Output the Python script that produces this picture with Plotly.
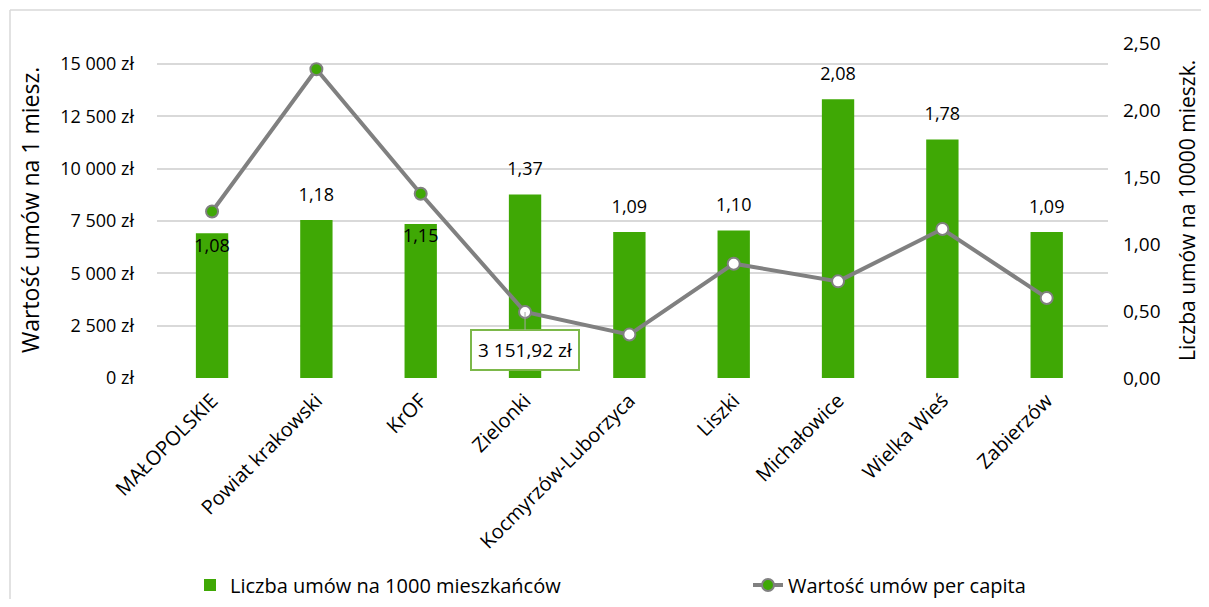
import plotly.graph_objects as go

categories = ["MAŁOPOLSKIE", "Powiat krakowski", "KrOF", "Zielonki", "Kocmyrzów-Luborzyca",
              "Liszki", "Michałowice", "Wielka Wieś", "Zabierzów"]
liczba_umow = [1.08, 1.18, 1.15, 1.37, 1.09, 1.10, 2.08, 1.78, 1.09]
wartosc_per_capita = [7954, 14745, 8798, 3151.92, 2074, 5460, 4616, 7115, 3824]
bar_label_text = ["1,08", "1,18", "1,15", "1,37", "1,09", "1,10", "2,08", "1,78", "1,09"]
bar_label_pos = ["bottom center", "top center", "bottom center", "top center", "top center",
                 "top center", "top center", "top center", "top center"]
marker_fill = ["#3FA805", "#3FA805", "#3FA805", "white", "white", "white", "white", "white", "white"]
left_ticks = [0, 2500, 5000, 7500, 10000, 12500, 15000]
left_tick_text = ["0 zł", "2 500 zł", "5 000 zł", "7 500 zł", "10 000 zł", "12 500 zł", "15 000 zł"]
right_ticks = [0, 0.5, 1.0, 1.5, 2.0, 2.5]

FONT = "Open Sans"
GREEN = "#3FA805"
GRAY = "#808080"

OFF = 8  # page body margin
W, H = 1209 - 2 * OFF, 607 - 2 * OFF
L, R, T, B = 157 - OFF, 1108 - OFF, 43 - OFF, 378 - OFF
pw, ph = R - L, B - T


def px(x):
    return (x - OFF - L) / pw


def py(y):
    return (B - (y - OFF)) / ph


fig = go.Figure()

fig.add_trace(go.Bar(
    x=categories, y=liczba_umow, name="Liczba umów na 1000 mieszkańców",
    marker=dict(color=GREEN, line=dict(width=0)), width=0.31, yaxis="y",
    hoverinfo="skip", legend="legend",
))

fig.add_trace(go.Scatter(
    x=categories, y=liczba_umow, mode="markers+text", text=bar_label_text,
    textposition=bar_label_pos, showlegend=False, yaxis="y",
    marker=dict(size=[6 if p.startswith("bottom") else 22 for p in bar_label_pos],
                opacity=0),
    textfont=dict(family=FONT, size=18, color="black"), hoverinfo="skip",
))

fig.add_trace(go.Scatter(
    x=categories, y=wartosc_per_capita, name="Wartość umów per capita",
    mode="lines+markers", yaxis="y2", legend="legend2",
    line=dict(color=GRAY, width=4),
    marker=dict(size=12, color=marker_fill, line=dict(color=GRAY, width=2)),
    hoverinfo="skip",
))

legend_font = dict(family=FONT, size=20, color="black")

fig.update_layout(
    width=W, height=H,
    margin=dict(l=L, r=W - R, t=T, b=H - B, autoexpand=False),
    paper_bgcolor="white", plot_bgcolor="white",
    separators=", ",
    font=dict(family=FONT, size=17, color="black"),
    xaxis=dict(
        type="category", tickangle=-45, tickfont=dict(family=FONT, size=20, color="black"),
        showgrid=False, showline=False, ticks="", ticklabelstandoff=6,
    ),
    yaxis=dict(
        side="right", range=[0, 2.5], tickvals=right_ticks, tickformat=".2f",
        showgrid=False, zeroline=False, showline=False,
        tickfont=dict(family=FONT, size=19, color="black"), ticklabelstandoff=14,
    ),
    yaxis2=dict(
        side="left", overlaying="y", range=[0, 16000], tickvals=left_ticks,
        ticktext=left_tick_text,
        showgrid=True, gridcolor="#d9d9d9", gridwidth=1.5,
        zeroline=False, showline=False,
        tickfont=dict(family=FONT, size=18, color="black"), ticklabelstandoff=22,
    ),
    legend=dict(
        orientation="h", x=px(190), xanchor="left", y=py(585), yanchor="middle",
        font=legend_font, bgcolor="rgba(0,0,0,0)",
    ),
    legend2=dict(
        orientation="h", x=px(748), xanchor="left", y=py(585), yanchor="middle",
        font=legend_font, bgcolor="rgba(0,0,0,0)",
    ),
    showlegend=True,
)

fig.add_annotation(
    x="Zielonki", y=wartosc_per_capita[3], xref="x", yref="y2",
    text="3 151,92 zł", showarrow=True, arrowhead=0, arrowwidth=1, arrowcolor="#a6a6a6",
    ax=0, ay=38, bordercolor="#7CB84A", borderwidth=2, borderpad=6, bgcolor="white",
    font=dict(family=FONT, size=19, color="black"),
)

fig.add_annotation(
    x=px(30), y=py(210), xref="paper", yref="paper", text="Wartość umów na 1 miesz.",
    xanchor="center", yanchor="middle",
    showarrow=False, textangle=-90, font=dict(family=FONT, size=23, color="black"),
)
fig.add_annotation(
    x=px(1187), y=py(211), xref="paper", yref="paper", text="Liczba umów na 10000 mieszk.",
    xanchor="center", yanchor="middle",
    showarrow=False, textangle=-90, font=dict(family=FONT, size=21, color="black"),
)

# chart frame (top and left edges visible in the reference)
fig.add_shape(type="line", xref="paper", yref="paper",
              x0=px(10), y0=py(10), x1=px(1220), y1=py(10),
              line=dict(color="#d9d9d9", width=1.5), layer="below")
fig.add_shape(type="line", xref="paper", yref="paper",
              x0=px(10), y0=py(10), x1=px(10), y1=py(620),
              line=dict(color="#d9d9d9", width=1.5), layer="below")

fig.write_html("out.html")
